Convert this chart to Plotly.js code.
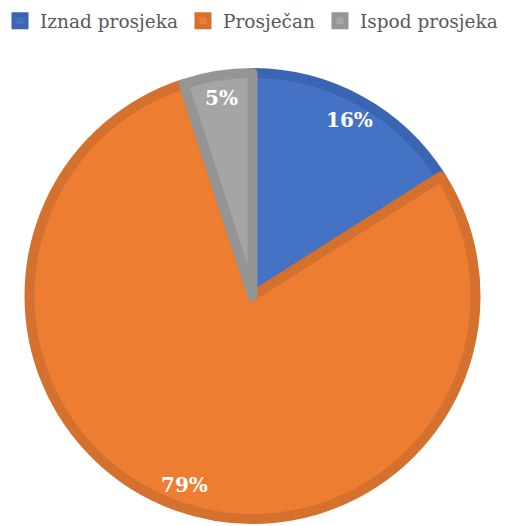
<!DOCTYPE html>
<html><head><meta charset="utf-8">
<script src="https://cdn.plot.ly/plotly-3.0.1.min.js"></script>
<style>html,body{margin:0;padding:0;background:#fff}</style></head>
<body><div id="chart" style="width:507px;height:526px"></div>
<script>
const categories = ['Iznad prosjeka', 'Prosječan', 'Ispod prosjeka'];
const values = [16, 79, 5];
const fillColors = ['#4472C4', '#ED7D31', '#A5A5A5'];
const borderColors = ['#3A65B2', '#D4712E', '#959595'];

const serif = 'DejaVu Serif';
const W = 507, H = 526;
// pie domain in pixels (left, right, top, bottom)
const pieL = 28, pieR = 477, pieT = 73, pieB = 519;
const domX = [pieL / W, pieR / W];
const domY = [1 - pieB / H, 1 - pieT / H];
const cx = (domX[0] + domX[1]) / 2, cy = (domY[0] + domY[1]) / 2;
const rPx = Math.min(pieR - pieL, pieB - pieT) / 2;
const labelPx = 0.9 * rPx;

const total = values.reduce((a, b) => a + b, 0);
let cum = 0;
const annotations = values.map((v, i) => {
  const mid = (cum + v / 2) / total * 2 * Math.PI;
  cum += v;
  return {
    xref: 'paper', yref: 'paper',
    x: cx + labelPx * Math.sin(mid) / W,
    y: cy + labelPx * Math.cos(mid) / H,
    xanchor: 'center', yanchor: 'middle',
    text: '<b>' + Math.round(v / total * 100) + '%</b>',
    showarrow: false,
    font: {family: serif, size: 20, color: '#ffffff'}
  };
});

const trace = {
  type: 'pie',
  labels: categories,
  values: values,
  sort: false,
  direction: 'clockwise',
  rotation: 0,
  textinfo: 'none',
  hoverinfo: 'label+percent',
  marker: {colors: fillColors, line: {color: borderColors, width: 10}},
  domain: {x: domX, y: domY}
};

const layout = {
  width: W, height: H,
  margin: {l: 0, r: 0, t: 0, b: 0},
  paper_bgcolor: '#ffffff',
  font: {family: serif},
  showlegend: true,
  legend: {
    orientation: 'h',
    x: 0, y: 0.996, xanchor: 'left', yanchor: 'top',
    font: {family: serif, size: 18.5, color: '#595959'}
  },
  annotations: annotations
};

Plotly.newPlot('chart', [trace], layout, {displayModeBar: false});
</script></body></html>
